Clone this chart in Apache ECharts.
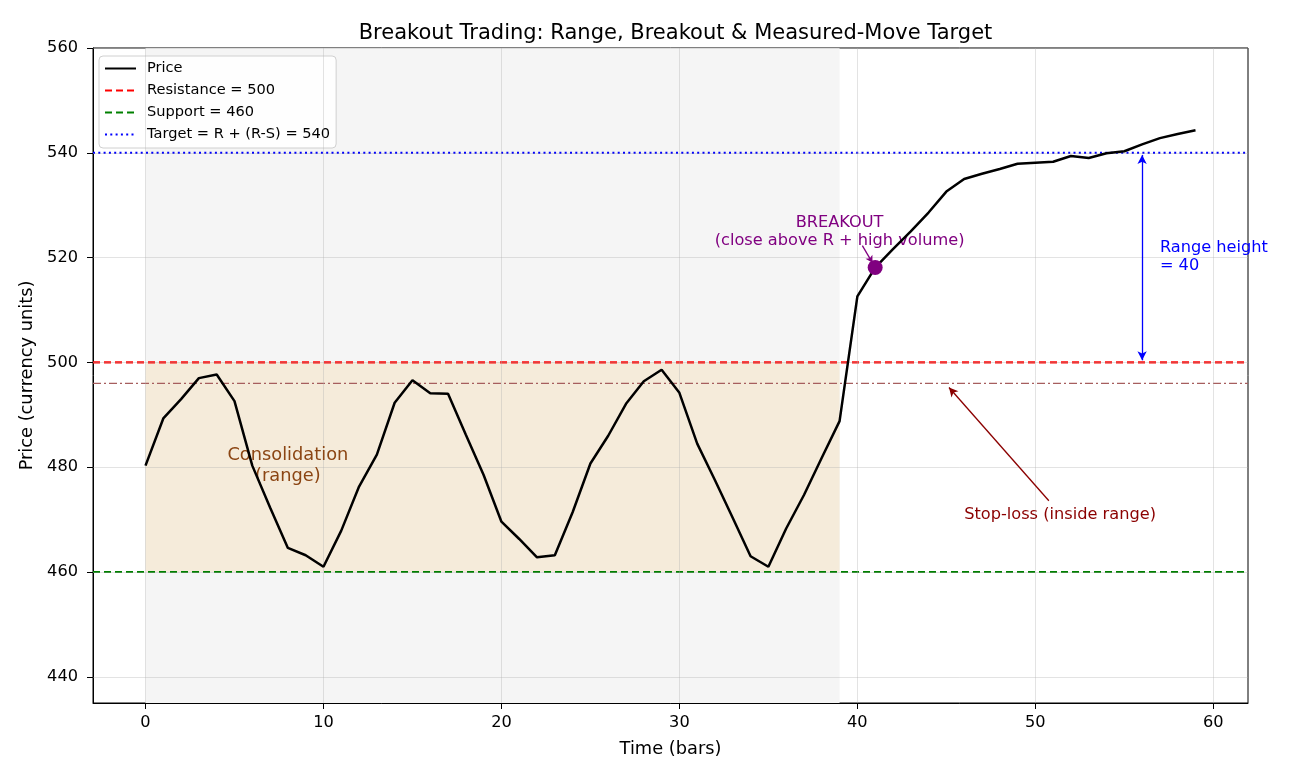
<!DOCTYPE html>
<html>
<head>
<meta charset="utf-8">
<script src="https://cdn.jsdelivr.net/npm/echarts@6/dist/echarts.min.js"></script>
<style>html,body{margin:0;padding:0;background:#fff}#c{width:1300px;height:780px}</style>
</head>
<body>
<div id="c"></div>
<script>
// ---- data ----
const bars = Array.from({length: 60}, (_, i) => i);
const price = [480.3, 489.3, 493.0, 497.0, 497.7, 492.6, 480.3, 472.3, 464.6, 463.2,
               461.0, 467.9, 476.3, 482.4, 492.3, 496.6, 494.1, 494.0, 486.2, 478.5,
               469.6, 466.3, 462.8, 463.2, 471.4, 480.7, 486.0, 492.1, 496.4, 498.6,
               494.2, 484.5, 477.5, 470.3, 463.0, 461.0, 468.3, 474.7, 481.8, 488.8,
               512.6, 518.1, 521.6, 525.0, 528.6, 532.6, 535.0, 536.0, 536.9, 537.9,
               538.1, 538.3, 539.4, 539.0, 539.9, 540.3, 541.6, 542.8, 543.6, 544.3];
const resistance = 500;
const support = 460;
const target = resistance + (resistance - support);
const stopLoss = 496;
const breakoutBar = 41;
const rangeEndBar = 39;
const xTicks = [0, 10, 20, 30, 40, 50, 60];
const yTicks = [440, 460, 480, 500, 520, 540, 560];

// ---- layout ----
const xMin = -2.95, xMax = 61.95, yMin = 435, yMax = 560;
const FONT = 'DejaVu Sans';

const chart = echarts.init(document.getElementById('c'), null, {renderer: 'canvas'});

const hline = (v) => [[xMin, v], [xMax, v]];

const option = {
  animation: false,
  backgroundColor: '#ffffff',
  textStyle: {fontFamily: FONT},
  title: {
    text: 'Breakout Trading: Range, Breakout & Measured-Move Target',
    left: 670.5, top: 18, textAlign: 'center',
    textStyle: {fontFamily: FONT, fontSize: 21, fontWeight: 'normal', color: '#000'}
  },
  legend: {
    data: ['Price', 'Resistance = ' + resistance, 'Support = ' + support, 'Target = R + (R-S) = ' + target],
    orient: 'vertical', left: 99, top: 56,
    padding: [5, 6, 6, 5],
    itemWidth: 31, itemHeight: 14, itemGap: 7,
    backgroundColor: 'rgba(255,255,255,0.85)',
    borderColor: '#d0d0d0', borderWidth: 1, borderRadius: 4,
    itemStyle: {opacity: 0, borderWidth: 0},
    textStyle: {fontFamily: FONT, fontSize: 14.6, color: '#000', padding: [0, 0, 0, 6]}
  },
  grid: {left: 93, right: 52, top: 48, bottom: 77, show: true, borderColor: '#000', borderWidth: 1, backgroundColor: 'transparent'},
  xAxis: {
    type: 'value', min: xMin, max: xMax,
    name: 'Time (bars)', nameLocation: 'middle', nameGap: 37,
    nameTextStyle: {fontFamily: FONT, fontSize: 17.8, color: '#000'},
    axisLine: {show: true, onZero: false, lineStyle: {color: '#000', width: 1}},
    axisTick: {show: true, length: 6, lineStyle: {color: '#000'}, customValues: xTicks},
    axisLabel: {fontFamily: FONT, fontSize: 16.2, color: '#000', margin: 12, customValues: xTicks},
    splitLine: {show: false}
  },
  yAxis: {
    type: 'value', min: yMin, max: yMax,
    name: 'Price (currency units)', nameLocation: 'middle', nameGap: 56,
    nameTextStyle: {fontFamily: FONT, fontSize: 17.8, color: '#000'},
    axisLine: {show: true, onZero: false, lineStyle: {color: '#000', width: 1}},
    axisTick: {show: true, length: 6, lineStyle: {color: '#000'}, customValues: yTicks},
    axisLabel: {fontFamily: FONT, fontSize: 16.2, color: '#000', margin: 15, customValues: yTicks},
    splitLine: {show: false}
  },
  series: [
    {
      name: 'shading', type: 'line', data: [], z: 1, silent: true,
      markArea: {
        silent: true,
        data: [
          [{coord: [0, yMin], itemStyle: {color: '#f5f5f5'}}, {coord: [rangeEndBar, yMax]}],
          [{coord: [0, support], itemStyle: {color: '#f5ebda'}}, {coord: [rangeEndBar, resistance]}]
        ]
      }
    },
    {
      name: 'gridlines', type: 'line', data: [], z: 2, silent: true,
      markLine: {
        silent: true, symbol: 'none', label: {show: false},
        lineStyle: {color: 'rgba(176,176,176,0.35)', width: 1, type: 'solid'},
        data: xTicks.map(v => ({xAxis: v})).concat(yTicks.map(v => ({yAxis: v})))
      }
    },
    {
      name: 'Resistance = ' + resistance, type: 'line', data: hline(resistance), z: 4,
      symbol: 'none', color: '#ff0000',
      lineStyle: {color: '#ff0000', width: 2.2, type: [7, 4]}
    },
    {
      name: 'Support = ' + support, type: 'line', data: hline(support), z: 4,
      symbol: 'none', color: '#008000',
      lineStyle: {color: '#008000', width: 2.2, type: [7, 4]}
    },
    {
      name: 'Target = R + (R-S) = ' + target, type: 'line', data: hline(target), z: 4,
      symbol: 'none', color: '#0000ff',
      lineStyle: {color: '#0000ff', width: 2.2, type: [2, 3.3]}
    },
    {
      name: 'stop', type: 'line', data: hline(stopLoss), z: 4, silent: true,
      symbol: 'none',
      lineStyle: {color: '#a65e5e', width: 1.3, type: [8, 3, 2, 3]}
    },
    {
      name: 'Price', type: 'line', z: 6,
      data: bars.map((x, i) => [x, price[i]]),
      symbol: 'none', color: '#000',
      lineStyle: {color: '#000', width: 2.5}
    },
    {
      name: 'breakout', type: 'scatter', z: 7, silent: true,
      data: [[bars[breakoutBar], price[breakoutBar]]],
      symbolSize: 15, itemStyle: {color: '#800080', opacity: 1}
    },
    {
      name: 'annotations', type: 'line', data: [], z: 8, silent: true,
      markLine: {
        silent: true, label: {show: false},
        data: [
          [{coord: [56, resistance + 0.4], symbol: 'arrow', symbolSize: [7, 9], lineStyle: {color: '#0000ff', width: 1.3, type: 'solid'}},
           {coord: [56, target - 0.4], symbol: 'arrow', symbolSize: [7, 9]}],
          [{coord: [50.76, 473.6], symbol: 'none', lineStyle: {color: '#8b0000', width: 1.3, type: 'solid'}},
           {coord: [45.15, 495.2], symbol: 'arrow', symbolSize: [7, 9]}],
          [{coord: [40.28, 522.3], symbol: 'none', lineStyle: {color: '#800080', width: 1.3, type: 'solid'}},
           {coord: [40.85, 519.0], symbol: 'arrow', symbolSize: [6, 7]}]
        ]
      },
      markPoint: {
        silent: true, symbol: 'circle', symbolSize: 0,
        data: [
          {coord: [8.0, 480.2], label: {show: true, position: 'inside', align: 'center', verticalAlign: 'middle',
            formatter: 'Consolidation\n(range)', color: '#8b4513', fontFamily: FONT, fontSize: 17.8, lineHeight: 21}},
          {coord: [39.0, 524.9], label: {show: true, position: 'inside', align: 'center', verticalAlign: 'middle',
            formatter: 'BREAKOUT\n(close above R + high volume)', color: '#800080', fontFamily: FONT, fontSize: 16.2, lineHeight: 18}},
          {coord: [57.0, 520.2], label: {show: true, position: 'inside', align: 'left', verticalAlign: 'middle',
            formatter: 'Range height\n= 40', color: '#0000ff', fontFamily: FONT, fontSize: 16.2, lineHeight: 18.5}},
          {coord: [46.0, 470.9], label: {show: true, position: 'inside', align: 'left', verticalAlign: 'middle',
            formatter: 'Stop-loss (inside range)', color: '#8b0000', fontFamily: FONT, fontSize: 16.2}}
        ]
      }
    }
  ]
};
chart.setOption(option);
</script>
</body>
</html>
